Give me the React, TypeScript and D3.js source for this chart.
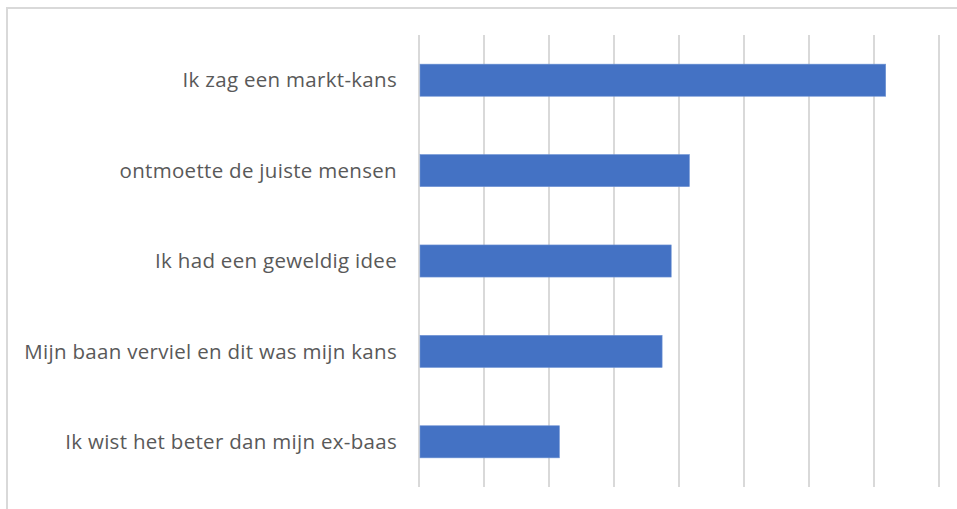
import React, { useEffect, useRef } from 'react';
import * as d3 from 'd3';

const categories = [
  'Ik zag een markt-kans',
  'ontmoette de juiste mensen',
  'Ik had een geweldig idee',
  'Mijn baan verviel en dit was mijn kans',
  'Ik wist het beter dan mijn ex-baas',
];
const values = [35.9, 20.8, 19.4, 18.7, 10.8];
const tickValues = [0, 5, 10, 15, 20, 25, 30, 35, 40];

const W = 957;
const H = 509;

const App: React.FC = () => {
  const svgRef = useRef<SVGSVGElement>(null);

  useEffect(() => {
    document.body.style.margin = '0';
    if (!svgRef.current) return;
    const svg = d3.select(svgRef.current);
    svg.selectAll('*').remove();

    const margin = { top: 35, right: 18, bottom: 22, left: 419 };
    const innerH = H - margin.top - margin.bottom;

    // chart frame
    svg.append('rect')
      .attr('x', 7)
      .attr('y', 8)
      .attr('width', W + 10)
      .attr('height', H + 10)
      .attr('fill', '#ffffff')
      .attr('stroke', '#d9d9d9')
      .attr('stroke-width', 2);

    const g = svg.append('g').attr('transform', `translate(${margin.left},${margin.top})`);

    const x = d3.scaleLinear().domain([0, 40]).range([0, 520]);
    const y = d3.scaleBand<string>().domain(categories).range([0, innerH]).paddingInner(0.645).paddingOuter(0.3225);

    // vertical grid
    g.append('g')
      .selectAll('line')
      .data(tickValues)
      .enter()
      .append('line')
      .attr('x1', (d) => x(d))
      .attr('x2', (d) => x(d))
      .attr('y1', 0)
      .attr('y2', innerH)
      .attr('stroke', '#d9d9d9')
      .attr('stroke-width', 2);

    g.selectAll('.bar')
      .data(values)
      .enter()
      .append('rect')
      .attr('class', 'bar')
      .attr('x', x(0) + 1)
      .attr('y', (_, i) => y(categories[i]) as number)
      .attr('width', (d) => x(d) - x(0) - 1)
      .attr('height', y.bandwidth())
      .attr('fill', '#4472c4')
      .attr('stroke', '#6f93d4')
      .attr('stroke-width', 0.6);

    g.selectAll('.label')
      .data(categories)
      .enter()
      .append('text')
      .attr('class', 'label')
      .attr('x', -22)
      .attr('y', (d) => (y(d) as number) + y.bandwidth() / 2)
      .attr('dy', '0.35em')
      .attr('text-anchor', 'end')
      .attr('fill', '#595959')
      .style('font-family', '"Open Sans", sans-serif')
      .style('font-size', '20.5px')
      .style('letter-spacing', '0.3px')
      .text((d) => d);
  }, []);

  return <svg ref={svgRef} width={W} height={H} style={{ display: 'block' }} />;
};

export default App;
